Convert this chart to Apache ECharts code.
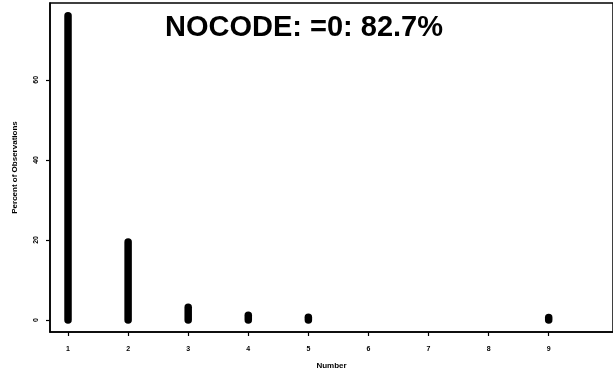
<!DOCTYPE html>
<html>
<head>
<meta charset="utf-8">
<script src="https://cdn.jsdelivr.net/npm/echarts@6/dist/echarts.min.js"></script>
<style>
  html, body { margin: 0; padding: 0; background: #fff; }
  #chart { width: 613px; height: 375px; }
</style>
</head>
<body>
<div id="chart"></div>
<script>
// values
const numbers = [1, 2, 3, 4, 5, 9];
const percents = [76.0, 19.5, 3.2, 1.2, 0.7, 0.6];
const xTicks = [1, 2, 3, 4, 5, 6, 7, 8, 9];
const yTicks = [0, 20, 40, 60];
const titleText = 'NOCODE: =0: 82.7%';

const myChart = echarts.init(document.getElementById('chart'));

// one thick vertical stroke per count, from 0 up to its percent
const strokes = numbers.map((n, i) => ({
    type: 'line',
    data: [[n, 0], [n, percents[i]]],
    symbol: 'none',
    silent: true,
    lineStyle: {
        width: 7.5,
        color: '#000',
        cap: 'round'
    }
}));

const option = {
    backgroundColor: '#fff',
    animation: false,
    title: {
        text: titleText,
        left: 160,
        top: 8,
        textStyle: {
            fontFamily: 'Liberation Sans',
            fontWeight: 'bold',
            fontSize: 29,
            color: '#000'
        }
    },
    grid: {
        left: 50,
        right: -10,
        top: 3,
        bottom: 41,
        show: true,
        borderColor: '#000',
        borderWidth: 1.5
    },
    xAxis: {
        type: 'value',
        min: 0.7,
        max: 10.07,
        name: 'Number',
        nameLocation: 'middle',
        nameGap: 30,
        nameTextStyle: {
            fontFamily: 'Liberation Sans',
            fontWeight: 'bold',
            fontSize: 8,
            color: '#000'
        },
        splitLine: { show: false },
        axisLine: { show: true, onZero: false, lineStyle: { color: '#000', width: 1.5 } },
        axisTick: {
            show: true,
            length: 4,
            customValues: xTicks,
            lineStyle: { color: '#000', width: 1.2 }
        },
        axisLabel: {
            customValues: xTicks,
            margin: 14,
            fontFamily: 'Liberation Sans',
            fontWeight: 'bold',
            fontSize: 7,
            color: '#000'
        }
    },
    yAxis: {
        type: 'value',
        min: -3,
        max: 79.2,
        name: 'Percent of Observations',
        nameLocation: 'middle',
        nameGap: 31,
        nameTextStyle: {
            fontFamily: 'Liberation Sans',
            fontWeight: 'bold',
            fontSize: 8,
            color: '#000'
        },
        splitLine: { show: false },
        axisLine: { show: true, onZero: false, lineStyle: { color: '#000', width: 1.5 } },
        axisTick: {
            show: true,
            length: 4,
            customValues: yTicks,
            lineStyle: { color: '#000', width: 1.2 }
        },
        axisLabel: {
            customValues: yTicks,
            rotate: 90,
            margin: 10,
            fontFamily: 'Liberation Sans',
            fontWeight: 'bold',
            fontSize: 7,
            color: '#000'
        }
    },
    series: strokes
};

myChart.setOption(option);
window.addEventListener('resize', () => myChart.resize());
</script>
</body>
</html>
